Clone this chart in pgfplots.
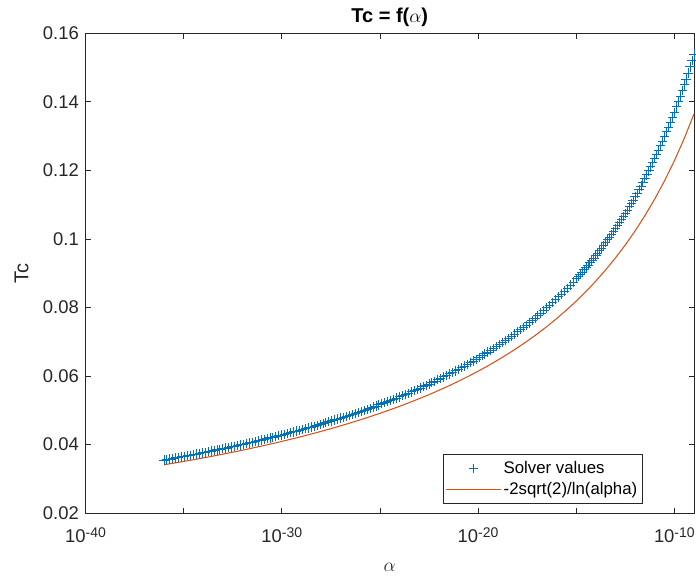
\documentclass[border=0pt]{standalone}
\usepackage{pgfplots}
\pgfplotsset{compat=1.18}
\usepackage{fontspec}
\setmainfont{Liberation Sans}
\definecolor{mblue}{RGB}{0,114,189}
\definecolor{morange}{RGB}{217,83,25}
\definecolor{axgray}{RGB}{38,38,38}
\newcommand{\tenpow}[1]{10\raisebox{0.55ex}{\fontsize{10.5}{12}\selectfont #1}}

\begin{document}
\begin{tikzpicture}
\begin{axis}[
  scale only axis, width=456pt, height=359.6pt,
  xmin=-40, xmax=-9, ymin=0.02, ymax=0.16,
  clip=false,
  xtick={-40,-35,-30,-25,-20,-15,-10},
  xticklabels={\tenpow{-40},,\tenpow{-30},,\tenpow{-20},,\tenpow{-10}},
  ytick={0.02,0.04,0.06,0.08,0.1,0.12,0.14,0.16},
  yticklabels={0.02,0.04,0.06,0.08,0.1,0.12,0.14,0.16},
  scaled y ticks=false,
  minor tick num=0,
  tick align=inside, major tick length=4pt,
  axis line style={axgray, line width=0.6pt},
  every tick/.style={axgray, line width=0.6pt},
  ticklabel style={font=\fontsize{13.8}{16}\selectfont, text=axgray},
  xticklabel style={yshift=-7pt},
  yticklabel style={xshift=-1.5pt},
  /pgf/number format/assume math mode=true,
  title={\textbf{Tc = f(}$\alpha$\textbf{)}},
  title style={at={(axis description cs:0.5,1.0173)}, anchor=center, font=\fontsize{15}{18}\selectfont},
  xlabel={$\alpha$},
  xlabel style={at={(axis description cs:0.5,-0.1126)}, anchor=center, font=\fontsize{15}{18}\selectfont, text=axgray},
  ylabel={Tc},
  ylabel style={at={(axis description cs:-0.105,0.5)}, anchor=center, font=\fontsize{15}{18}\selectfont, text=axgray},
  legend style={at={(axis description cs:0.916,0.0204)}, anchor=south east,
    fill=white, draw=axgray, font=\fontsize{12.6}{15}\selectfont,
    inner xsep=2pt, inner ysep=3pt, row sep=1pt},
  legend cell align=left,
]
\coordinate (bl) at (rel axis cs:0,0);
\coordinate (tr) at (rel axis cs:1,1);

% legend entries (samples centred on a 1.45cm slot)
\addlegendimage{legend image code/.code={%
  \draw[draw=mblue, line width=0.75pt] plot[mark=+, mark size=3.5pt, only marks] coordinates {(0.725cm,0cm)};}}
\addlegendentry{Solver values}
\addlegendimage{legend image code/.code={%
  \fill[fill=morange, draw=none] (0cm,-0.45pt) rectangle (1.45cm,0.45pt);}}
\addlegendentry{-2sqrt(2)/ln(alpha)}

% solver output: log10(alpha), Tc
\addplot[only marks, mark=+, mark size=3.5pt, color=mblue, mark options={line width=0.75pt}, forget plot]
table[row sep=\\] {
x y\\
-36.00 0.03549\\ -35.85 0.03564\\ -35.70 0.03580\\ -35.55 0.03595\\ -35.40 0.03611\\
-35.25 0.03627\\ -35.10 0.03642\\ -34.95 0.03659\\ -34.80 0.03675\\ -34.65 0.03691\\
-34.50 0.03708\\ -34.35 0.03724\\ -34.20 0.03741\\ -34.05 0.03758\\ -33.90 0.03775\\
-33.75 0.03792\\ -33.60 0.03810\\ -33.45 0.03827\\ -33.30 0.03845\\ -33.15 0.03863\\
-33.00 0.03881\\ -32.85 0.03899\\ -32.70 0.03917\\ -32.55 0.03936\\ -32.40 0.03955\\
-32.25 0.03974\\ -32.10 0.03993\\ -31.95 0.04012\\ -31.80 0.04032\\ -31.65 0.04051\\
-31.50 0.04071\\ -31.35 0.04091\\ -31.20 0.04111\\ -31.05 0.04132\\ -30.90 0.04153\\
-30.75 0.04173\\ -30.60 0.04195\\ -30.45 0.04216\\ -30.30 0.04237\\ -30.15 0.04259\\
-30.00 0.04281\\ -29.85 0.04303\\ -29.70 0.04326\\ -29.55 0.04348\\ -29.40 0.04371\\
-29.25 0.04394\\ -29.10 0.04418\\ -28.95 0.04441\\ -28.80 0.04465\\ -28.65 0.04489\\
-28.50 0.04514\\ -28.35 0.04538\\ -28.20 0.04563\\ -28.05 0.04589\\ -27.90 0.04614\\
-27.75 0.04640\\ -27.60 0.04666\\ -27.45 0.04692\\ -27.30 0.04719\\ -27.15 0.04746\\
-27.00 0.04773\\ -26.85 0.04801\\ -26.70 0.04829\\ -26.55 0.04857\\ -26.40 0.04886\\
-26.25 0.04915\\ -26.10 0.04944\\ -25.95 0.04973\\ -25.80 0.05003\\ -25.65 0.05034\\
-25.50 0.05064\\ -25.35 0.05096\\ -25.20 0.05127\\ -25.05 0.05159\\ -24.90 0.05191\\
-24.75 0.05224\\ -24.60 0.05257\\ -24.45 0.05290\\ -24.30 0.05324\\ -24.15 0.05359\\
-24.00 0.05393\\ -23.85 0.05429\\ -23.70 0.05464\\ -23.55 0.05501\\ -23.40 0.05537\\
-23.25 0.05575\\ -23.10 0.05612\\ -22.95 0.05650\\ -22.80 0.05689\\ -22.65 0.05728\\
-22.50 0.05768\\ -22.35 0.05809\\ -22.20 0.05849\\ -22.05 0.05891\\ -21.90 0.05933\\
-21.75 0.05976\\ -21.60 0.06019\\ -21.45 0.06063\\ -21.30 0.06108\\ -21.15 0.06153\\
-21.00 0.06199\\ -20.85 0.06245\\ -20.70 0.06293\\ -20.55 0.06341\\ -20.40 0.06390\\
-20.25 0.06439\\ -20.10 0.06490\\ -19.95 0.06541\\ -19.80 0.06593\\ -19.65 0.06645\\
-19.50 0.06699\\ -19.35 0.06754\\ -19.20 0.06809\\ -19.05 0.06865\\ -18.90 0.06922\\
-18.75 0.06981\\ -18.60 0.07040\\ -18.45 0.07100\\ -18.30 0.07161\\ -18.15 0.07224\\
-18.00 0.07287\\ -17.85 0.07352\\ -17.70 0.07417\\ -17.55 0.07484\\ -17.40 0.07552\\
-17.25 0.07621\\ -17.10 0.07692\\ -16.95 0.07764\\ -16.80 0.07837\\ -16.65 0.07912\\
-16.50 0.07988\\ -16.35 0.08066\\ -16.20 0.08145\\ -16.05 0.08226\\ -15.90 0.08308\\
-15.75 0.08392\\ -15.60 0.08478\\ -15.45 0.08565\\ -15.30 0.08654\\ -15.15 0.08745\\
-15.00 0.08839\\
-14.9 0.08902\\ -14.8 0.08966\\ -14.7 0.09031\\ -14.6 0.09097\\ -14.5 0.09164\\
-14.4 0.09232\\ -14.3 0.09301\\ -14.2 0.09371\\ -14.1 0.09442\\ -14.0 0.09514\\
-13.9 0.09587\\ -13.8 0.09661\\ -13.7 0.09737\\ -13.6 0.09814\\ -13.5 0.09892\\
-13.4 0.09971\\ -13.3 0.10051\\ -13.2 0.10133\\ -13.1 0.10216\\ -13.0 0.10301\\
-12.9 0.10387\\ -12.8 0.10474\\ -12.7 0.10563\\ -12.6 0.10653\\ -12.5 0.10745\\
-12.4 0.10839\\ -12.3 0.10934\\ -12.2 0.11031\\ -12.1 0.11129\\ -12.0 0.11229\\
-11.9 0.11332\\ -11.8 0.11436\\ -11.7 0.11542\\ -11.6 0.11650\\ -11.5 0.11760\\
-11.4 0.11872\\ -11.3 0.11986\\ -11.2 0.12103\\ -11.1 0.12221\\ -11.0 0.12342\\
-10.9 0.12466\\ -10.8 0.12592\\ -10.7 0.12721\\ -10.6 0.12852\\ -10.5 0.12986\\
-10.4 0.13123\\ -10.3 0.13263\\ -10.2 0.13405\\ -10.1 0.13551\\ -10.0 0.13700\\
-9.9 0.13853\\ -9.8 0.14008\\ -9.7 0.14168\\ -9.6 0.14331\\ -9.5 0.14498\\
-9.4 0.14668\\ -9.3 0.14843\\ -9.2 0.15022\\ -9.1 0.15206\\ -9.0 0.15394\\
};

% analytic estimate -2 sqrt(2) / ln(alpha)
\addplot[color=morange, line width=0.8pt, no marks, forget plot]
table[row sep=\\] {
x y\\
-36.0 0.034121\\ -35.5 0.034602\\ -35.0 0.035096\\ -34.5 0.035605\\ -34.0 0.036128\\
-33.5 0.036668\\ -33.0 0.037223\\ -32.5 0.037796\\ -32.0 0.038386\\ -31.5 0.038996\\
-31.0 0.039625\\ -30.5 0.040274\\ -30.0 0.040945\\ -29.5 0.041639\\ -29.0 0.042357\\
-28.5 0.043100\\ -28.0 0.043870\\ -27.5 0.044668\\ -27.0 0.045495\\ -26.5 0.046353\\
-26.0 0.047245\\ -25.5 0.048171\\ -25.0 0.049134\\ -24.5 0.050137\\ -24.0 0.051182\\
-23.5 0.052271\\ -23.0 0.053407\\ -22.5 0.054594\\ -22.0 0.055835\\ -21.5 0.057133\\
-21.0 0.058493\\ -20.5 0.059920\\ -20.0 0.061418\\ -19.5 0.062993\\ -19.0 0.064651\\
-18.5 0.066398\\ -18.0 0.068242\\ -17.5 0.070192\\ -17.0 0.072257\\ -16.5 0.074446\\
-16.0 0.076773\\ -15.5 0.079249\\ -15.0 0.081891\\ -14.5 0.084715\\ -14.0 0.087740\\
-13.5 0.090990\\ -13.0 0.094489\\ -12.5 0.098269\\ -12.0 0.102364\\ -11.5 0.106814\\
-11.0 0.111669\\ -10.5 0.116987\\ -10.0 0.122836\\ -9.5 0.129301\\ -9.0 0.136485\\
};
\end{axis}
\pgfresetboundingbox
\useasboundingbox ([shift={(-64.1pt,-50.4pt)}]bl) rectangle ([shift={(1.5pt,25pt)}]tr);
\end{tikzpicture}
\end{document}
